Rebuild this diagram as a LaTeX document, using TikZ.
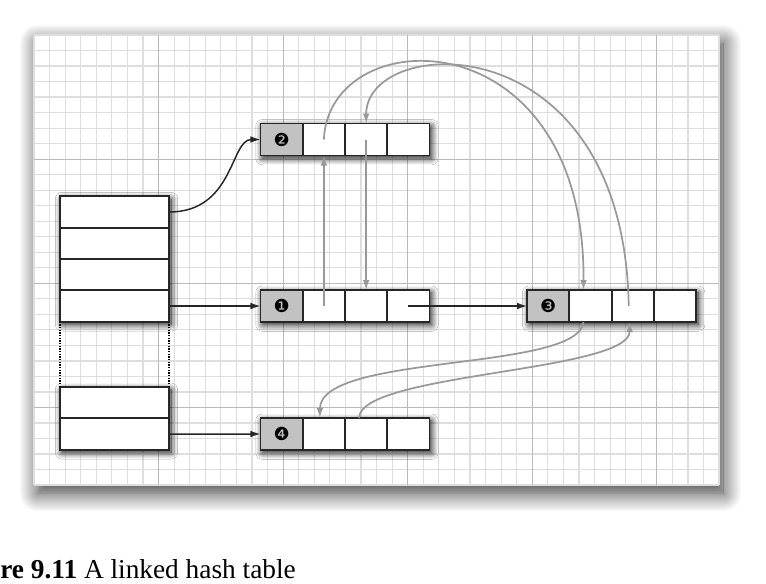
\documentclass[tikz,border=0pt]{standalone}
\usepackage{fontspec}
\setmainfont{Liberation Serif}
\newfontfamily\dejavu{DejaVu Sans}
\usepackage{xcolor}
\usepackage{tikz}
\usetikzlibrary{arrows.meta,positioning,fit,calc,backgrounds,shadows.blur}

\begin{document}
\begin{tikzpicture}[
  x=0.75pt, y=-0.75pt,
  cell/.style={draw=black!85, line width=1.4pt, fill=white, minimum width=31.7pt, minimum height=24pt, inner sep=0pt, outer sep=0pt},
  keycell/.style={cell, fill=black!24, font=\dejavu\fontsize{13.5}{13.5}\selectfont},
  bucket/.style={cell, minimum width=81.75pt, minimum height=23.5pt},
  link/.style={-{Latex[length=7.5pt,width=5pt]}, line width=1.1pt, black!85},
  back/.style={-{Latex[length=7.5pt,width=5pt]}, line width=1.3pt, black!40},
  gap/.style={densely dotted, line width=1pt},
  boxshadow/.style={inner sep=0pt, fill=white, blur shadow={shadow xshift=1.5pt, shadow yshift=-2pt, shadow blur radius=5pt, shadow blur steps=10, shadow opacity=95}},
  minorline/.style={black!13, line width=0.9pt},
  majorline/.style={black!27, line width=0.9pt}
]
\useasboundingbox (0,0) rectangle (766,583);

\node[bucket] (h1) at (114.5,212) {};
\node[bucket, below=0pt of h1] (h2) {};
\node[bucket, below=0pt of h2] (h3) {};
\node[bucket, below=0pt of h3] (h4) {};
\node[bucket] (h5) at (114.5,402.7) {};
\node[bucket, below=0pt of h5] (h6) {};

\node[keycell] (e1) at (281.6,306) {❶};
\node[cell, right=0pt of e1] (e1a) {};
\node[cell, right=0pt of e1a] (e1b) {};
\node[cell, right=0pt of e1b] (e1c) {};

\node[keycell] (e2) at (281.6,139.5) {❷};
\node[cell, right=0pt of e2] (e2a) {};
\node[cell, right=0pt of e2a] (e2b) {};
\node[cell, right=0pt of e2b] (e2c) {};

\node[keycell] (e3) at (548.2,306) {❸};
\node[cell, right=0pt of e3] (e3a) {};
\node[cell, right=0pt of e3a] (e3b) {};
\node[cell, right=0pt of e3b] (e3c) {};

\node[keycell] (e4) at (281.6,434) {❹};
\node[cell, right=0pt of e4] (e4a) {};
\node[cell, right=0pt of e4a] (e4b) {};
\node[cell, right=0pt of e4b] (e4c) {};

\node[anchor=base west, inner sep=0pt, font=\fontsize{20.5}{24}\selectfont] (caption) at (0,578) {\textbf{re 9.11} A linked hash table};

\begin{scope}[on background layer]
\fill[white, blur shadow={shadow xshift=3pt, shadow yshift=-6pt, shadow blur radius=14pt, shadow blur steps=20, shadow opacity=80}] (34,35) rectangle (719,485);
\foreach \i in {0,...,44} \draw[minorline] ({34+\i*15.57},35) -- ({34+\i*15.57},485);
\foreach \j in {0,...,29} \draw[minorline] (34,{35+\j*15.52}) -- (719,{35+\j*15.52});
\foreach \i in {8,16,...,40} \draw[majorline] ({34+\i*15.57},35) -- ({34+\i*15.57},485);
\foreach \j in {8,16,24} \draw[majorline] (34,{35+\j*15.52}) -- (719,{35+\j*15.52});
\node[boxshadow, fit=(h1)(h4)] (table1) {};
\node[boxshadow, fit=(h5)(h6)] (table2) {};
\node[boxshadow, fit=(e1)(e1c)] (entry1) {};
\node[boxshadow, fit=(e2)(e2c)] (entry2) {};
\node[boxshadow, fit=(e3)(e3c)] (entry3) {};
\node[boxshadow, fit=(e4)(e4c)] (entry4) {};
\end{scope}

\draw[gap] (h4.south west) -- (h5.north west);
\draw[gap] (h4.south east) -- (h5.north east);

\draw[link] (h1.east) .. controls +(65,0) and +(-30,0) .. (e2.west);
\draw[link] (h4.east) -- (e1.west);
\draw[link] (h6.east) -- (e4.west);
\draw[link] (e1c.center) -- (e1c.center -| e3.west);

\draw[back] (e1a.center) -- (e1a.center |- e2a.south);
\draw[back] (e2b.center) -- (e2b.center |- e1b.north);
\draw[back] (e2a.center) .. controls +(5,-120) and +(2,-275) .. ($(e3a.north)+(-7,0)$);
\draw[back] ($(e3b.center)+(-4,0)$) .. controls +(-5,-285) and +(0,-90) .. (e2b.north);
\draw[back] ($(e3a.south)+(-7,0)$) .. controls +(-5,50) and +(0,-65) .. ($(e4a.north)+(-4,0)$);
\draw[back] ($(e4b.north)+(-7,0)$) .. controls +(0,-45) and +(0,50) .. ($(e3b.south)+(-3,0)$);
\end{tikzpicture}
\end{document}
